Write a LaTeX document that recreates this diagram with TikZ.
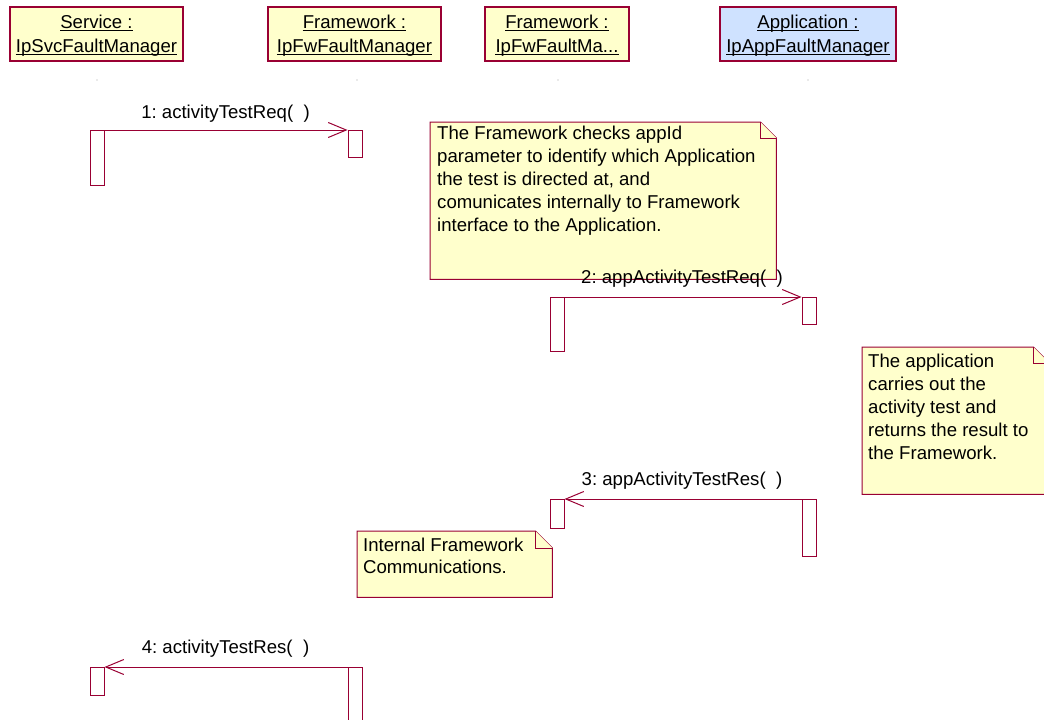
\documentclass[tikz,border=0pt]{standalone}
\usepackage{fontspec}
\setmainfont{Liberation Sans}
\usetikzlibrary{arrows.meta,calc}
\frenchspacing
\definecolor{maroon}{HTML}{990033}
\definecolor{noteyellow}{HTML}{FFFFCC}
\definecolor{appblue}{HTML}{CFE2FF}
\newcommand\ulabel[3]{%
  \node[lbl] (#1) at (#2) {#3};
  \draw[ulline] ([yshift=-2.3pt]#1.base west) -- ([yshift=-2.3pt]#1.base east);}
\newcommand\notefold[2]{%
  \filldraw[notestyle] (#1.north west) -- ([xshift=-#2]#1.north east) -- ([yshift=-#2]#1.north east) -- (#1.south east) -- (#1.south west) -- cycle;
  \draw[notestyle] ([xshift=-#2]#1.north east) -- ([xshift=-#2,yshift=-#2]#1.north east) -- ([yshift=-#2]#1.north east);}
\begin{document}
\frenchspacing
\begin{tikzpicture}[x=1pt,y=-1pt,
  every node/.style={font=\fontsize{18.6}{23.2}\selectfont},
  hdr/.style={draw=maroon, line width=1.2pt, fill=noteyellow, minimum height=54pt, inner sep=0pt},
  lbl/.style={anchor=base, inner sep=0pt},
  ulline/.style={line width=1pt, black},
  act/.style={draw=maroon, line width=1pt, fill=white, minimum width=14pt, inner sep=0pt, anchor=north},
  msg/.style={draw=maroon, line width=1pt, -{Straight Barb[length=18pt,width=15pt,line width=1pt]}},
  notebg/.style={inner sep=0pt, anchor=north west},
  notestyle/.style={draw=maroon, line width=1pt, fill=noteyellow},
  notetext/.style={anchor=base west, inner sep=0pt},
  dot/.style={fill=gray!70}]
\useasboundingbox (0,0) rectangle (1044,720);

% headers
\node[hdr, minimum width=173pt] (svc) at (96.5,34) {};
\node[hdr, minimum width=173pt] (fw1) at (354.5,34) {};
\node[hdr, minimum width=144pt] (fw2) at (557,34) {};
\node[hdr, minimum width=176pt, fill=appblue] (app) at (808,34) {};
\ulabel{svcA}{96.5,28}{Service :}
\ulabel{svcB}{96.5,52}{IpSvcFaultManager}
\ulabel{fw1A}{354.5,28}{Framework :}
\ulabel{fw1B}{354.5,52}{IpFwFaultManager}
\ulabel{fw2A}{557,28}{Framework :}
\ulabel{fw2B}{557,52}{IpFwFaultMa...}
\ulabel{appA}{808,28}{Application :}
\ulabel{appB}{808,52}{IpAppFaultManager}

% lifeline marks
\fill[dot] (97,80) circle (0.6pt);
\fill[dot] (357,80) circle (0.6pt);
\fill[dot] (558,80) circle (0.6pt);
\fill[dot] (808,80) circle (0.6pt);

% notes
\node[notebg, minimum width=346pt, minimum height=157pt] (n1) at (430,122) {};
\notefold{n1}{16pt}
\node[notetext] (n1t) at (437,139) {\parbox[t]{340pt}{\raggedright
The Framework checks appId\\
parameter to identify which Application\\
the test is directed at, and\\
comunicates internally to Framework\\
interface to the Application.}};

\node[notebg, minimum width=187pt, minimum height=147pt] (n2) at (862,347) {};
\notefold{n2}{16pt}
\node[notetext] (n2t) at (868,367) {\parbox[t]{180pt}{\raggedright
The application\\
carries out the\\
activity test and\\
returns the result to\\
the Framework.}};

\node[notebg, minimum width=195pt, minimum height=66pt] (n3) at (357,531) {};
\notefold{n3}{17pt}
\node[notetext] (n3t) at (363,551) {\parbox[t]{185pt}{\raggedright\fontsize{18.6}{22}\selectfont
Internal Framework\\
Communications.}};

% activations
\node[act, minimum height=55pt] (s1) at (97,130) {};
\node[act, minimum height=27pt] (f1a) at (355,130) {};
\node[act, minimum height=54pt] (f2a) at (557,297) {};
\node[act, minimum height=27pt] (ap1) at (809,297) {};
\node[act, minimum height=57pt] (ap2) at (809,499) {};
\node[act, minimum height=29pt] (f2b) at (557,499) {};
\node[act, minimum height=28pt] (s2) at (97,667) {};
\node[act, minimum height=70pt] (f1b) at (355,667) {};

% messages
\draw[msg] (s1.north east) -- (f1a.north west);
\draw[msg] (f2a.north east) -- (ap1.north west);
\draw[msg] (ap2.north west) -- (f2b.north east);
\draw[msg] (f1b.north west) -- (s2.north east);

% message labels
\node[lbl] (m1) at (225.5,118) {1: activityTestReq(~~)};
\node[lbl] (m2) at (682,283) {2: appActivityTestReq(~~)};
\node[lbl] (m3) at (682,485) {3: appActivityTestRes(~~)};
\node[lbl] (m4) at (225.5,653) {4: activityTestRes(~~)};
\end{tikzpicture}
\end{document}
